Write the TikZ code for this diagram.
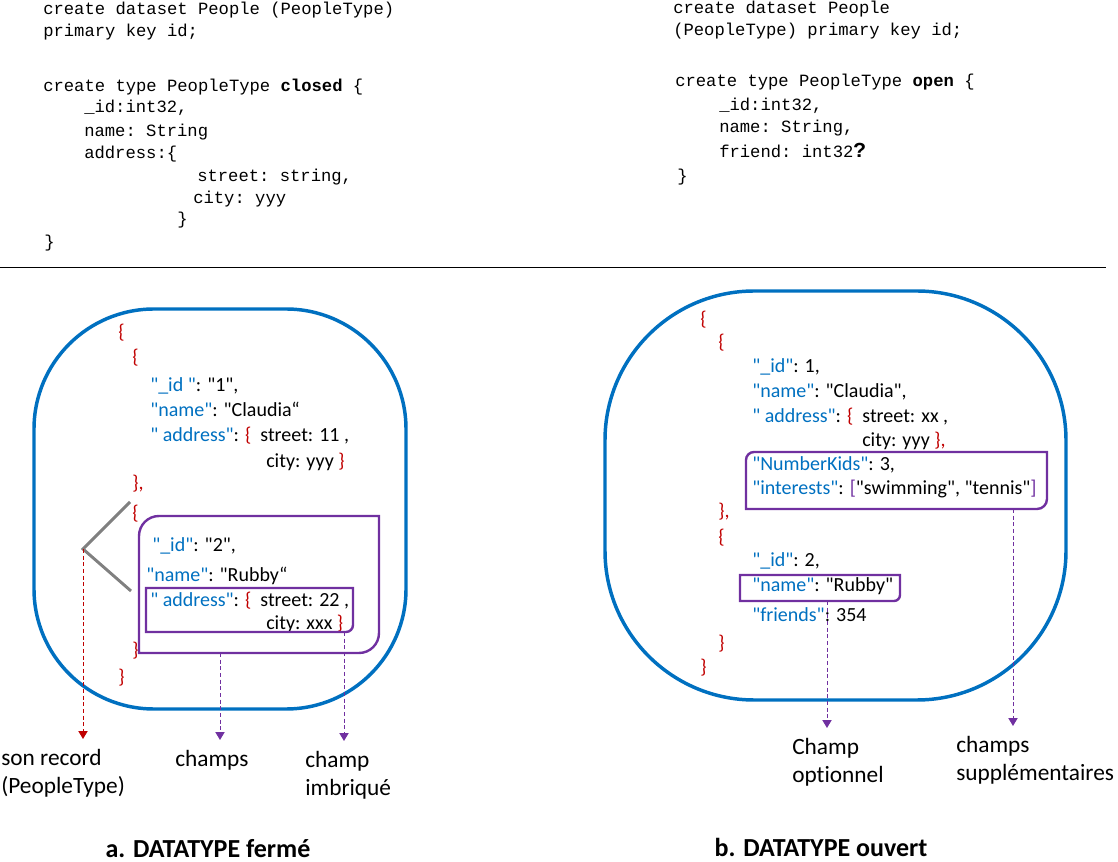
\documentclass[tikz,border=0pt]{standalone}
\usepackage{fontspec}
\setmainfont{Carlito}[Ligatures={TeXOff,NoCommon}]
\setmonofont{Liberation Mono}
\usepackage{xcolor}
\usepackage{tikz}
\usetikzlibrary{arrows.meta}

\definecolor{blobblue}{RGB}{0,112,192}
\definecolor{keyblue}{RGB}{0,112,192}
\definecolor{bracered}{RGB}{192,0,0}
\definecolor{selpurple}{RGB}{112,48,160}
\definecolor{forkgray}{RGB}{128,128,128}

\newcommand\jk[1]{\textcolor{keyblue}{#1}}
\newcommand\jb[1]{\textcolor{bracered}{#1}}
\newcommand\jp[1]{\textcolor{selpurple}{#1}}

\begin{document}
\begin{tikzpicture}[x=0.75pt, y=-0.75pt,
		  codeline/.style={anchor=base west, inner sep=0, font=\ttfamily\fontsize{12.9}{15}\selectfont},
		  jsonline/.style={anchor=base west, inner sep=0, font=\fontsize{15}{18}\selectfont},
		  lbl/.style={anchor=north west, inner sep=0, align=left, font=\fontsize{17.5}{21}\selectfont},
		  caption/.style={anchor=base, inner sep=0, font=\bfseries\fontsize{19.5}{23}\selectfont},
		  blob/.style={draw=blobblue, line width=2.6pt},
		  selbox/.style={draw=selpurple, line width=1.8pt},
		  fork/.style={draw=forkgray, line width=2.2pt},
		  pointer/.style={-{Triangle[width=7pt,length=6pt]}, line width=0.7pt, dash pattern=on 3pt off 2pt, shorten >=7.5pt},
		]
			\useasboundingbox (0,0) rectangle (1118,862);

			% schema, closed type
			\draw node[codeline] (ca1) at (43,15) {create dataset People (PeopleType)};
			\draw node[codeline] (ca2) at (43,37) {primary key id;};
			\draw node[codeline] (ca3) at (43,92) {create type PeopleType \textbf{closed} \{};
			\draw node[codeline] (ca4) at (84,113) {\_id:int32,};
			\draw node[codeline] (ca5) at (84,137) {name: String};
			\draw node[codeline] (ca6) at (84,159) {address:\{};
			\draw node[codeline] (ca7) at (197,182) {street: string,};
			\draw node[codeline] (ca8) at (193,204) {city: yyy};
			\draw node[codeline] (ca9) at (177,225) {\}};
			\draw node[codeline] (ca10) at (44,248) {\}};

			% schema, open type
			\draw node[codeline] (cb1) at (673,14) {create dataset People};
			\draw node[codeline] (cb2) at (673,36) {(PeopleType) primary key id;};
			\draw node[codeline] (cb3) at (675,87) {create type PeopleType \textbf{open} \{};
			\draw node[codeline] (cb4) at (719,111) {\_id:int32,};
			\draw node[codeline] (cb5) at (719,133) {name: String,};
			\draw node[codeline] (cb6) at (719,158) {friend: int32\textbf{\fontsize{16}{18}\selectfont ?}};
			\draw node[codeline] (cb7) at (677,182) {\}};

			\draw (0,267) -- (1106,267);

			% closed instances
			\draw[blob, rounded corners=90pt] (34,309) rectangle (406,709);
			\draw node[jsonline] (ja1) at (118,339) {\jb{\{}};
			\draw node[jsonline] (ja2) at (132,364) {\jb{\{}};
			\draw node[jsonline] (ja3) at (150,392) {\jk{"\_id "}: "1",};
			\draw node[jsonline] (ja4) at (150,417) {\jk{"name"}: "Claudia“};
			\draw node[jsonline] (ja5) at (150,442) {\jk{" address"}: \jb{\{}\ \ street: 11 ,};
			\draw node[jsonline] (ja6) at (266,468) {city: yyy \jb{\}}};
			\draw node[jsonline] (ja7) at (132,490) {\jb{\},}};
			\draw node[jsonline] (ja8) at (132,520) {\jb{\{}};
			\draw node[jsonline] (ja9) at (152,552) {\jk{"\_id"}: "2",};
			\draw node[jsonline] (ja10) at (146,582) {\jk{"name"}: "Rubby“};
			\draw node[jsonline] (ja11) at (150,607) {\jk{" address"}: \jb{\{}\ \ street: 22 ,};
			\draw node[jsonline] (ja12) at (266,630) {city: xxx \jb{\}}};
			\draw node[jsonline] (ja13) at (132,657) {\jb{\}}};
			\draw node[jsonline] (ja14) at (118,684) {\jb{\}}};

			\draw[selbox] (139,653) -- (139,536) to[out=90,in=180] (159,516) -- (379,516)
                -- (379,633) to[out=-90,in=0] (359,653) -- cycle;
			\draw[selbox] (146,588) -- (353,588) -- (353,625) to[out=-90,in=0] (346,632) -- (146,632) -- cycle;
			\coordinate (forkpt) at (83,549);
			\coordinate (recbot) at (220,653);
			\coordinate (nestbot) at (344,632);
			\draw[fork] (130,502) -- (forkpt) -- (131,591);

			% open instances
			\draw[blob, rounded corners=112pt] (605,291) rectangle (1066,700);
			\draw node[jsonline] (jb1) at (700,326) {\jb{\{}};
			\draw node[jsonline] (jb2) at (718,349) {\jb{\{}};
			\draw node[jsonline] (jb3) at (752,373) {\jk{"\_id"}: 1,};
			\draw node[jsonline] (jb4) at (752,398) {\jk{"name"}: "Claudia",};
			\draw node[jsonline] (jb5) at (752,423) {\jk{" address"}: \jb{\{}\ \ street: xx ,};
			\draw node[jsonline] (jb6) at (862,447) {city: yyy \jb{\},}};
			\draw node[jsonline] (jb7) at (752,471) {\jk{"NumberKids"}: 3,};
			\draw node[jsonline] (jb8) at (752,495) {\jk{"interests"}: \jp{[}"swimming", "tennis"\jp{]}};
			\draw node[jsonline] (jb9) at (718,518) {\jb{\},}};
			\draw node[jsonline] (jb10) at (718,544) {\jb{\{}};
			\draw node[jsonline] (jb11) at (752,567) {\jk{"\_id"}: 2,};
			\draw node[jsonline] (jb12) at (752,592) {\jk{"name"}: "Rubby"};
			\draw node[jsonline] (jb13) at (752,622) {\jk{"friends"}: 354};
			\draw node[jsonline] (jb14) at (718,650) {\jb{\}}};
			\draw node[jsonline] (jb15) at (700,673) {\jb{\}}};

			\draw[selbox] (746,509) -- (746,460) to[out=90,in=180] (754,452) -- (1047,452)
                -- (1047,499) to[out=-90,in=0] (1037,509) -- cycle;
			\draw[selbox] (740,575) -- (900,575) -- (900,595) to[out=-90,in=0] (894,601) -- (740,601) -- cycle;
			\coordinate (optbot) at (827,601);
			\coordinate (extrabot) at (1013,509);

			% labels
			\draw node[lbl] (lblrecord) at (1,749) {son record\\(PeopleType)};
			\draw node[lbl] (lblfields) at (175,750) {champs};
			\draw node[lbl] (lblnested) at (305,751) {champ\\imbriqué};
			\draw node[lbl] (lbloptional) at (792,738) {Champ\\optionnel};
			\draw node[lbl] (lblextra) at (956,736) {champs\\supplémentaires};
			\draw[pointer, bracered] (forkpt) -- (forkpt |- lblrecord.north);
			\draw[pointer, selpurple] (recbot) -- (recbot |- lblfields.north);
			\draw[pointer, selpurple] (nestbot) -- (nestbot |- lblnested.north);
			\draw[pointer, selpurple] (optbot) -- (optbot |- lbloptional.north);
			\draw[pointer, selpurple] (extrabot) -- (extrabot |- lblextra.north);

			\draw node[caption] (capa) at (208,857) {a. DATATYPE fermé};
			\draw node[caption] (capb) at (821,856) {b. DATATYPE ouvert};

		 \end{tikzpicture}
\end{document}
